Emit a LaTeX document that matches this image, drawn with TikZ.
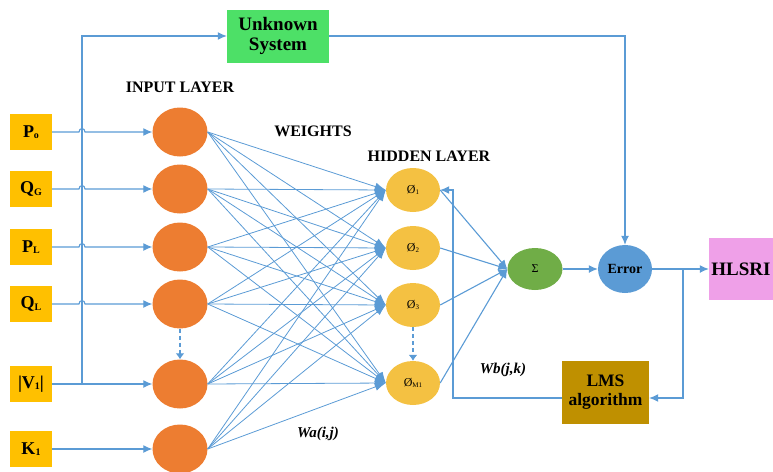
\documentclass[tikz,border=0pt]{standalone}
\usepackage{fontspec}
\setmainfont{Liberation Serif}
\usetikzlibrary{arrows.meta,calc,shapes.geometric}
\definecolor{lc}{HTML}{5B9BD5}
\definecolor{inc}{HTML}{FFC000}
\definecolor{orc}{HTML}{ED7D31}
\definecolor{hic}{HTML}{F4C142}
\definecolor{sgc}{HTML}{70AD47}
\definecolor{erc}{HTML}{5B9BD5}
\definecolor{usc}{HTML}{4DE067}
\definecolor{hlc}{HTML}{EFA0E8}
\definecolor{lmc}{HTML}{BF9000}
\newcommand{\lsub}[1]{\raisebox{-0.2ex}{\fontsize{10}{10}\selectfont #1}}
\newcommand{\hsub}[1]{\raisebox{-0.2ex}{\fontsize{7}{7}\selectfont #1}}
\begin{document}
\begin{tikzpicture}[x=1pt,y=-1pt,
  ln/.style={draw=lc, line width=1.1pt},
  arr/.style={ln,-{Latex[length=9pt,width=8pt]}},
  mesh/.style={draw=lc, line width=0.8pt,-{Latex[length=11pt,width=8pt]}},
  dsh/.style={draw=lc, line width=2pt, dash pattern=on 4pt off 3pt,-{Latex[length=6pt,width=9pt]}},
  inbox/.style={fill=inc, minimum width=42pt, minimum height=36pt, inner sep=0pt, font=\fontsize{18}{20}\selectfont\bfseries},
  incirc/.style={ellipse, fill=orc, minimum width=55pt, minimum height=49pt, inner sep=0pt},
  hid/.style={ellipse, fill=hic, minimum width=54pt, minimum height=44pt, inner sep=0pt, font=\fontsize{12}{12}\selectfont},
  lab/.style={font=\fontsize{16}{18}\selectfont\bfseries},
  wlab/.style={font=\fontsize{15}{17}\selectfont\bfseries\itshape},
]
\useasboundingbox (0,0) rectangle (773,471);
% input boxes
\node[inbox] (b1) at (31,132) {P\lsub{o}};
\node[inbox] (b2) at (31,189) {Q\lsub{G}};
\node[inbox] (b3) at (31,247) {P\lsub{L}};
\node[inbox] (b4) at (31,304) {Q\lsub{L}};
\node[inbox] (b5) at (31,384) {|V\lsub{1}|};
\node[inbox] (b6) at (31,449) {K\lsub{1}};
% input layer
\node[incirc] (i1) at (180,132) {};
\node[incirc] (i2) at (180,189) {};
\node[incirc] (i3) at (180,247) {};
\node[incirc] (i4) at (180,304) {};
\node[incirc] (i5) at (180,384) {};
\node[incirc] (i6) at (180,449) {};
% hidden layer
\node[hid] (h1) at (413,190) {Ø\hsub{1}};
\node[hid] (h2) at (413,248) {Ø\hsub{2}};
\node[hid] (h3) at (413,305) {Ø\hsub{3}};
\node[hid] (h4) at (413,383) {Ø\hsub{M1}};
% other blocks
\node[ellipse, fill=sgc, minimum width=55pt, minimum height=42pt, inner sep=0pt, font=\fontsize{12}{12}\selectfont] (sig) at (535,269) {Σ};
\node[ellipse, fill=erc, minimum width=54pt, minimum height=48pt, inner sep=0pt, font=\fontsize{14}{14}\selectfont\bfseries] (err) at (625,269) {Error};
\node[fill=usc, minimum width=102pt, minimum height=53pt, inner sep=0pt, align=center, font=\fontsize{19}{20}\selectfont\bfseries] (us) at (278,36) {Unknown\\System};
\node[fill=hlc, minimum width=64pt, minimum height=62pt, inner sep=0pt, font=\fontsize{19}{20}\selectfont\bfseries] (hl) at (741,269) {HLSRI};
\node[fill=lmc, minimum width=87pt, minimum height=63pt, inner sep=0pt, align=center, font=\fontsize{17.5}{19}\selectfont\bfseries] (lms) at (605.5,392.5) {LMS\\algorithm};
% labels
\node[lab] (tin) at (180,87) {INPUT LAYER};
\node[lab] (tw) at (313,131) {WEIGHTS};
\node[lab] (th) at (429,156) {HIDDEN LAYER};
\node[wlab] (twa) at (318,434) {Wa(i,j)};
\node[wlab] (twb) at (503,370) {Wb(j,k)};
% coordinates
\coordinate (vx) at (82,36);
\coordinate (br) at (683,269);
\coordinate (fb) at (683,398);
\coordinate (fl) at (453,398);
% inputs to input layer
\foreach \k in {1,...,4}{
  \draw[arr] (b\k.east) -- ($(b\k.east -| vx)+(-3,0)$)
    .. controls ($(b\k.east -| vx)+(-3,-4.5)$) and ($(b\k.east -| vx)+(3,-4.5)$) .. ($(b\k.east -| vx)+(3,0)$)
    -- (i\k.west);
}
\draw[arr] (b5.east) -- (i5.west);
\draw[arr] (b6.east) -- (i6.west);
\draw[arr] (b5.east -| vx) -- (vx) -- (us.west);
% weights mesh
\foreach \i in {1,...,6}{
  \foreach \j in {1,...,4}{
    \draw[mesh] (i\i.east) -- (h\j.west);
  }
}
% dashed
\draw[dsh] (i4.south) -- (i5.north);
\draw[dsh] (h3.south) -- (h4.north);
% hidden to sum
\foreach \j in {1,...,4}{
  \draw[arr] (h\j.east) -- (sig.west);
}
\draw[arr] (sig.east) -- (err.west);
\draw[arr] (us.east) -| (err.north);
\draw[arr] (err.east) -- (hl.west);
\draw[arr] (br) -- (fb) -- (fb -| lms.east);
\draw[arr] (lms.west |- fl) -- (fl) -- (fl |- h1.east) -- (h1.east);
\end{tikzpicture}
\end{document}
